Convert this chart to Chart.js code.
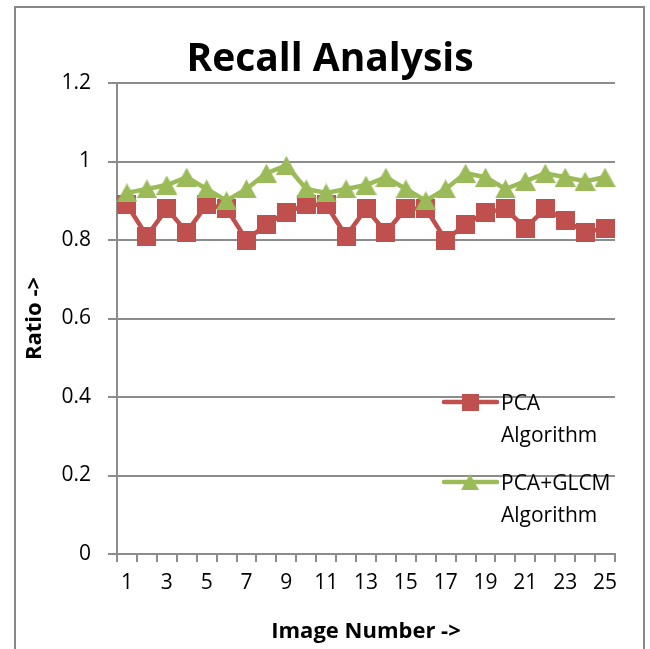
<!DOCTYPE html>
<html>
<head>
<meta charset="utf-8">
<script src="https://cdn.jsdelivr.net/npm/chart.js@4.4.1/dist/chart.umd.min.js"></script>
<style>
  html, body { margin: 0; padding: 0; background: #ffffff; }
  #wrap { width: 650px; height: 649px; }
</style>
</head>
<body>
<div id="wrap"><canvas id="c" width="650" height="649"></canvas></div>
<script>
// ---- data ----
const chartTitle = 'Recall Analysis';
const xTitle = 'Image Number ->';
const yTitle = 'Ratio ->';
const categories = ['1','2','3','4','5','6','7','8','9','10','11','12','13','14','15','16','17','18','19','20','21','22','23','24','25'];
const seriesNames = ['PCA Algorithm', 'PCA+GLCM Algorithm'];
const pcaValues = [0.89, 0.81, 0.88, 0.82, 0.89, 0.88, 0.80, 0.84, 0.87, 0.89, 0.89, 0.81, 0.88, 0.82, 0.88, 0.88, 0.80, 0.84, 0.87, 0.88, 0.83, 0.88, 0.85, 0.82, 0.83];
const glcmValues = [0.92, 0.93, 0.94, 0.96, 0.93, 0.90, 0.93, 0.97, 0.99, 0.93, 0.92, 0.93, 0.94, 0.96, 0.93, 0.90, 0.93, 0.97, 0.96, 0.93, 0.95, 0.97, 0.96, 0.95, 0.96];
const yMin = 0, yMax = 1.2, yStep = 0.2;

// ---- style ----
const RED = '#C0504D';
const GREEN = '#9BBB59';
const GRAY = '#8C8C8C';
const FONT = '"Open Sans", "Liberation Sans", sans-serif';

function squareMarker(size, color) {
  const c = document.createElement('canvas');
  c.width = size; c.height = size;
  const g = c.getContext('2d');
  g.fillStyle = color;
  g.fillRect(0, 0, size, size);
  return c;
}
function triangleMarker(w, h, color) {
  const c = document.createElement('canvas');
  c.width = w; c.height = h;
  const g = c.getContext('2d');
  g.fillStyle = color;
  g.beginPath();
  g.moveTo(w / 2, 0);
  g.lineTo(w, h);
  g.lineTo(0, h);
  g.closePath();
  g.fill();
  return c;
}

const redMarker = squareMarker(19, RED);
const greenMarker = triangleMarker(21, 19, GREEN);
const redLegendMarker = squareMarker(17, RED);
const greenLegendMarker = triangleMarker(18, 16, GREEN);

const framePlugin = {
  id: 'frame',
  beforeDraw(chart) {
    const ctx = chart.ctx;
    ctx.save();
    ctx.fillStyle = '#ffffff';
    ctx.fillRect(0, 0, chart.width, chart.height);
    ctx.strokeStyle = '#888888';
    ctx.lineWidth = 2;
    ctx.strokeRect(15, 7, 629, 670);
    // chart title
    ctx.fillStyle = '#000000';
    ctx.font = 'bold 39px ' + FONT;
    ctx.textAlign = 'center';
    ctx.textBaseline = 'alphabetic';
    ctx.fillText(chartTitle, 330, 71);
    ctx.restore();
  }
};

const legendPlugin = {
  id: 'insideLegend',
  afterDraw(chart) {
    const ctx = chart.ctx;
    const items = [
      { color: RED, marker: redLegendMarker, y: 402, name: seriesNames[0] },
      { color: GREEN, marker: greenLegendMarker, y: 482, name: seriesNames[1] }
    ];
    ctx.save();
    items.forEach(it => {
      ctx.strokeStyle = it.color;
      ctx.lineWidth = 4.5;
      ctx.lineCap = 'round';
      ctx.beginPath();
      ctx.moveTo(444, it.y);
      ctx.lineTo(497, it.y);
      ctx.stroke();
      ctx.drawImage(it.marker, 470 - it.marker.width / 2, it.y - it.marker.height / 2);
      const parts = it.name.split(' ');
      const first = parts.shift();
      const rest = parts.join(' ');
      ctx.fillStyle = '#000000';
      ctx.font = '21px ' + FONT;
      ctx.textAlign = 'left';
      ctx.textBaseline = 'alphabetic';
      ctx.fillText(first, 501, it.y + 8);
      ctx.fillText(rest, 501, it.y + 40);
    });
    ctx.restore();
  }
};

function make() {
  new Chart(document.getElementById('c'), {
    type: 'line',
    data: {
      labels: categories,
      datasets: [
        {
          label: seriesNames[0],
          data: pcaValues,
          borderColor: RED,
          backgroundColor: RED,
          borderWidth: 4.5,
          pointStyle: redMarker,
          tension: 0,
          order: 1
        },
        {
          label: seriesNames[1],
          data: glcmValues,
          borderColor: GREEN,
          backgroundColor: GREEN,
          borderWidth: 4.5,
          pointStyle: greenMarker,
          tension: 0,
          order: 0
        }
      ]
    },
    options: {
      responsive: false,
      animation: false,
      devicePixelRatio: 1,
      layout: { padding: { left: 0, right: 35, top: 83, bottom: 0 } },
      plugins: {
        legend: { display: false },
        tooltip: { enabled: false },
        title: { display: false }
      },
      scales: {
        x: {
          type: 'category',
          offset: true,
          afterFit(scale) { scale.height = 95; },
          grid: {
            display: true,
            offset: true,
            drawOnChartArea: false,
            drawTicks: true,
            tickLength: 8,
            color: GRAY,
            lineWidth: 2
          },
          border: { display: true, color: GRAY, width: 2 },
          ticks: {
            autoSkip: false,
            maxRotation: 0,
            padding: 8,
            color: '#000000',
            font: { family: FONT, size: 21 },
            callback(v, i) { return i % 2 === 0 ? categories[i] : ''; }
          },
          title: {
            display: true,
            text: xTitle,
            color: '#000000',
            font: { family: FONT, size: 22, weight: 'bold', lineHeight: 1.2 },
            padding: { top: 0, bottom: 4 }
          }
        },
        y: {
          min: yMin,
          max: yMax,
          afterFit(scale) { scale.width = 117; },
          grid: {
            color: GRAY,
            lineWidth: 2,
            drawTicks: true,
            tickLength: 9
          },
          border: { display: true, color: GRAY, width: 2 },
          ticks: {
            stepSize: yStep,
            padding: 17,
            color: '#000000',
            font: { family: FONT, size: 21 },
            callback(v) { return String(Math.round(v * 10) / 10); }
          },
          title: {
            display: true,
            text: yTitle,
            color: '#000000',
            font: { family: FONT, size: 22, weight: 'bold', lineHeight: 1.2 },
            padding: { top: 22, bottom: 0 }
          }
        }
      }
    },
    plugins: [framePlugin, legendPlugin]
  });
}

Promise.all([
  document.fonts.load('21px "Open Sans"'),
  document.fonts.load('bold 39px "Open Sans"')
]).then(make, make);
</script>
</body>
</html>
